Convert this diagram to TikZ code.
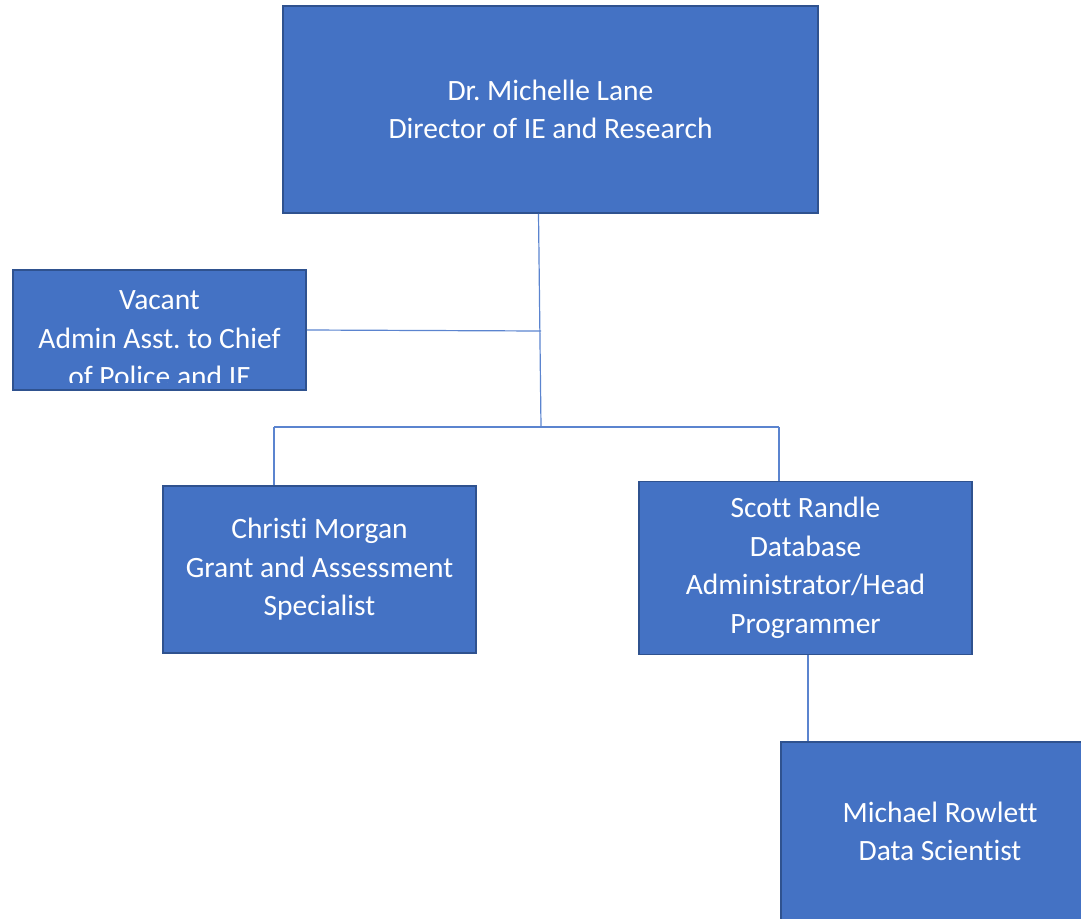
\documentclass[tikz,border=0pt]{standalone}
\usepackage{fontspec}
\setmainfont[Ligatures=NoCommon]{Carlito}
\usetikzlibrary{positioning,calc}
\definecolor{boxfill}{HTML}{4472C4}
\definecolor{boxline}{HTML}{2F528F}
\definecolor{linkblue}{HTML}{5B84CF}
\frenchspacing

\begin{document}
\begin{tikzpicture}[x=1pt,y=-1pt,
    person/.style={draw=boxline,line width=1.5pt,fill=boxfill,text=white,align=center,
      font=\fontsize{29.5}{38.5}\selectfont,inner sep=0pt},
    link/.style={draw=linkblue,line width=1.2pt}]
  \useasboundingbox (0,0) rectangle (1081,918);

  % boxes
  \node[person,minimum width=535,minimum height=207] (lane) at (550.5,109.5)
    {Dr. Michelle Lane\\Director of IE and Research};
  \node[person,minimum width=293,minimum height=120] (vacant) at (159.5,330) {};
  \begin{scope}
    \clip (vacant.north west) rectangle ([yshift=8pt]vacant.south east);
    \node[text=white,align=center,font=\fontsize{29.5}{38.5}\selectfont] (vacanttext) at (159.5,339)
      {Vacant\\Admin Asst. to Chief\\of Police and IE};
  \end{scope}
  \node[person,minimum width=313,minimum height=167] (morgan) at (319.5,569.5)
    {Christi Morgan\\Grant and Assessment\\Specialist};
  \node[person,minimum width=333,minimum height=173] (randle) at (805.5,568)
    {Scott Randle\\Database\\Administrator/Head\\Programmer};
  \node[person,minimum width=318,minimum height=179] (rowlett) at (940,831.5)
    {Michael Rowlett\\Data Scientist};

  % connectors
  \coordinate (hub) at (541,331);
  \coordinate (fork) at (541,427);
  \coordinate (forkL) at (274,427);
  \coordinate (forkR) at (779,427);
  \draw[link] ([xshift=-12pt]lane.south) -- (fork);
  \draw[link] (vacant.east) -- (hub);
  \draw[link] (forkL) -- (forkR);
  \draw[link] (forkL) -- (forkL |- morgan.north);
  \draw[link] (forkR) -- (forkR |- randle.north);
  \draw[link] ([xshift=2.5pt]randle.south) -- ([xshift=2.5pt]randle.south |- rowlett.north);
\end{tikzpicture}
\end{document}
